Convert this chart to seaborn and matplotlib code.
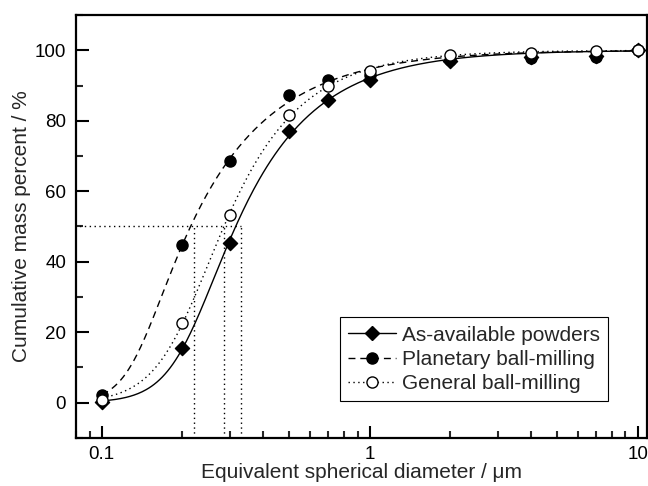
import numpy as np
import pandas as pd
import matplotlib
matplotlib.use("Agg")
import matplotlib.pyplot as plt
from matplotlib.lines import Line2D
import seaborn as sns

# ---- data ----
diameter = [0.1, 0.2, 0.3, 0.5, 0.7, 1, 2, 4, 7, 10]
as_available = [0.3, 15.6, 45.4, 77.1, 85.8, 91.5, 97.0, 98.0, 98.3, 100]
planetary = [2.3, 44.8, 68.7, 87.3, 91.5, 93.0, 97.3, 97.8, 98.0, 100]
general = [0.8, 22.7, 53.3, 81.6, 89.8, 94.1, 98.8, 99.1, 99.7, 100]
series_names = ["As-available powders", "Planetary ball-milling", "General ball-milling"]
d50 = [0.331, 0.22, 0.287]
x_ticks = [0.1, 1, 10]
x_ticklabels = ["0.1", "1", "10"]
y_ticks = [0, 20, 40, 60, 80, 100]

sns.set_theme(style="ticks")
plt.rcParams["font.family"] = ["Liberation Sans", "DejaVu Sans"]


def fit_curve(x, y):
    """Least-squares fit of an asymmetric sigmoid in log10(x) (grid search)."""
    u = np.log10(np.asarray(x, float))
    y = np.asarray(y, float)

    def sse_grid(c, k, m):
        C, K, M = np.meshgrid(c, k, m, indexing="ij")
        z = K[..., None] * (u - C[..., None])
        pred = 100 * (1 - (1 + np.exp(z)) ** (-M[..., None]))
        return ((pred - y) ** 2).sum(-1)

    c = np.linspace(-1.2, 0.3, 61)
    k = np.linspace(1, 20, 77)
    m = np.geomspace(0.05, 5, 61)
    for _ in range(6):
        s = sse_grid(c, k, m)
        i, j, l = np.unravel_index(np.argmin(s), s.shape)
        bc, bk, bm = c[i], k[j], m[l]
        dc = (c[1] - c[0]) * 2
        dk = (k[1] - k[0]) * 2
        rm = (m[1] / m[0]) ** 2
        c = np.linspace(bc - dc, bc + dc, 41)
        k = np.linspace(max(0.1, bk - dk), bk + dk, 41)
        m = np.geomspace(bm / rm, bm * rm, 41)
    return bc, bk, bm


def model(x, p):
    c, k, m = p
    z = k * (np.log10(x) - c)
    return 100 * (1 - (1 + np.exp(z)) ** (-m))


fig = plt.figure(figsize=(6.48, 4.86), dpi=100)
ax = fig.add_axes([0.117, 0.099, 0.881, 0.870])

styles = ["-", (0, (5, 3.5)), (0, (1, 2.5))]
markers = ["D", "o", "o"]
mfc = ["black", "black", "white"]
msize = [7.2, 8, 8]
all_y = [as_available, planetary, general]

xs = np.geomspace(0.1, 10, 400)
for ys, ls in zip(all_y, styles):
    p = fit_curve(diameter, ys)
    df = pd.DataFrame({"x": xs, "y": model(xs, p)})
    sns.lineplot(data=df, x="x", y="y", ax=ax, color="black", lw=1.0,
                 linestyle=ls, legend=False, zorder=2)

# d50 guide lines
for d in d50:
    ax.plot([d, d], [-10, 50], color="black", lw=1.0, linestyle=(0, (1, 2.5)), zorder=1)
ax.plot([0.07, max(d50)], [50, 50], color="black", lw=1.0, linestyle=(0, (1, 2.5)), zorder=1)

for n, (ys, mk, fc, s) in enumerate(zip(all_y, markers, mfc, msize)):
    df = pd.DataFrame({"x": diameter, "y": ys})
    sns.scatterplot(data=df, x="x", y="y", ax=ax, marker=mk, s=s ** 2,
                    color=fc, edgecolor="black", linewidth=1.0, zorder=3 + n,
                    legend=False)

ax.set_xscale("log")
ax.set_xlim(0.08, 10.8)
ax.set_ylim(-10, 110)
ax.set_xticks(x_ticks)
ax.set_xticklabels(x_ticklabels)
ax.set_yticks(y_ticks)
ax.yaxis.set_minor_locator(matplotlib.ticker.MultipleLocator(10))
ax.xaxis.set_minor_locator(matplotlib.ticker.LogLocator(base=10, subs=np.arange(2, 10)))
ax.xaxis.set_minor_formatter(matplotlib.ticker.NullFormatter())
ax.tick_params(which="major", direction="in", length=9, width=1.5, labelsize=13.5,
               top=False, right=False, pad=7, colors="black")
ax.tick_params(axis="x", which="major", pad=6)
ax.tick_params(which="minor", direction="in", length=5, width=1.5, top=False, right=False)
for sp in ax.spines.values():
    sp.set_linewidth(1.6)
    sp.set_color("black")
    sp.set_visible(True)

ax.set_xlabel("Equivalent spherical diameter / \u03bcm", fontsize=15, labelpad=0)
ax.set_ylabel("Cumulative mass percent / %", fontsize=15, labelpad=3)

handles = [Line2D([], [], color="black", lw=1.0, linestyle=ls, marker=mk,
                  markersize=s, markerfacecolor=fc, markeredgecolor="black")
           for ls, mk, fc, s in zip(styles, markers, mfc, msize)]
leg = ax.legend(handles, series_names, loc="upper left", bbox_to_anchor=(0.462, 0.285),
                fontsize=15, frameon=True, fancybox=False, edgecolor="black",
                framealpha=1, handlelength=2.3, handletextpad=0.3, borderpad=0.4,
                labelspacing=0.25, borderaxespad=0)
leg.get_frame().set_linewidth(0.8)

fig.savefig("out.png", dpi=100)
